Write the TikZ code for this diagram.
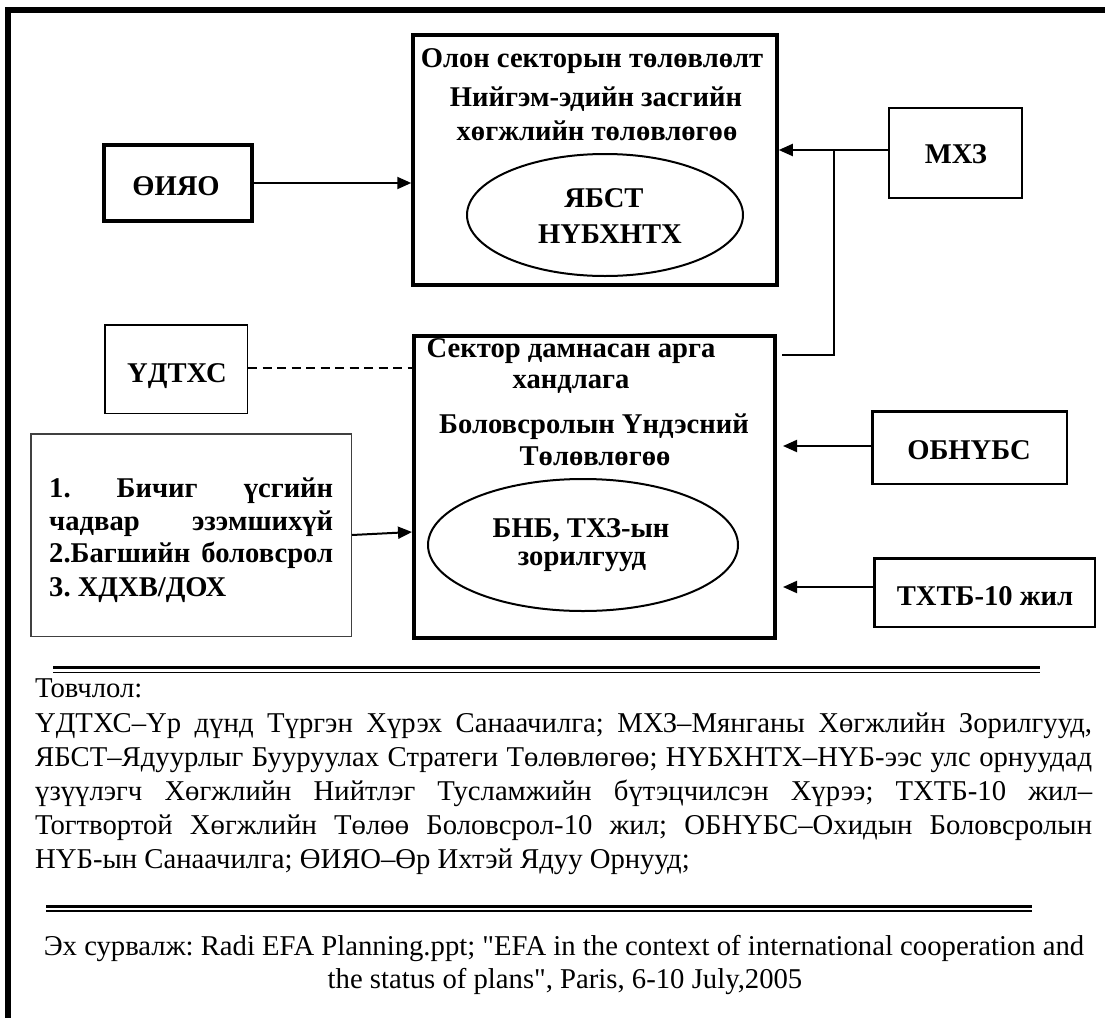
\documentclass[tikz,border=0pt]{standalone}
\usepackage{fontspec}
\setmainfont{Liberation Serif}[Ligatures=TeXOff]
\usetikzlibrary{arrows.meta,shapes.geometric}
\frenchspacing
\begin{document}
\frenchspacing
\begin{tikzpicture}[x=1pt,y=-1pt,
  bt/.style={font=\fontsize{28.6}{32}\selectfont\bfseries, inner sep=0pt, anchor=base},
  rt/.style={font=\fontsize{28.7}{32}\selectfont, inner sep=0pt, anchor=base west},
  boxthick/.style={draw, line width=4pt, inner sep=0pt},
  boxmid/.style={draw, line width=2.5pt, inner sep=0pt},
  boxthin/.style={draw, line width=1.5pt, inner sep=0pt},
  ell/.style={draw, ellipse, line width=2pt, inner sep=0pt},
  arr/.style={line width=2pt, -{Triangle[length=14pt,width=12pt]}},
  plain/.style={line width=2pt},
  dashline/.style={line width=2pt, dash pattern=on 9pt off 5.5pt}
]
\useasboundingbox (0,0) rectangle (1105,1017);
\clip (0,0) rectangle (1105,1017);
% outer frame (right and bottom sides lie outside the picture)
\draw[line width=5.5pt] (1200,10) -- (8,10) -- (8,1100);

% boxes
\node[boxthick, minimum width=363.5pt, minimum height=250pt] (top) at (595,160) {};
\node[ell, minimum width=276pt, minimum height=122pt] (ell1) at (605,215) {};
\node[draw, line width=4.5pt, inner sep=0pt, minimum width=148pt, minimum height=76pt] (oiyao) at (178,183) {};
\node[boxmid, minimum width=133pt, minimum height=90pt] (mhz) at (955.5,153) {};
\node[boxthick, minimum width=361pt, minimum height=302pt] (low) at (594.5,487) {};
\node[ell, minimum width=310pt, minimum height=132pt] (ell2) at (583,545) {};
\node[boxthin, minimum width=142.5pt, minimum height=88.5pt] (udtxs) at (176,369) {};
\node[boxthin, draw=black!75, minimum width=320.5pt, minimum height=202.5pt] (list) at (191,535) {};
\node[boxmid, minimum width=194.5pt, minimum height=72.5pt] (obn) at (969.5,447.5) {};
\node[boxmid, minimum width=220.5pt, minimum height=68.5pt] (txtb) at (984.5,592.5) {};

% connectors
\coordinate (j1) at (834,150);
\coordinate (j2) at (834,355);
\coordinate (j3) at (782,355);
\draw[arr] (oiyao.east) -- (top.west |- oiyao.east);
\draw[arr] (mhz.west |- j1) -- (top.east |- j1);
\draw[plain] (j1) -- (j2) -- (j3);
\draw[dashline] ([yshift=1pt]udtxs.east) -- ([yshift=1pt]low.west |- udtxs.east);
\draw[arr] (list.east) -- ([yshift=3pt]low.west |- list.east);
\draw[arr] ([yshift=1.5pt]obn.west) -- ([xshift=6pt,yshift=1.5pt]low.east |- obn.west);
\draw[arr] ([yshift=5.5pt]txtb.west) -- ([xshift=6pt,yshift=5.5pt]low.east |- txtb.west);

% texts in diagram
\node[bt] (t1) at (592,67) {Олон секторын төлөвлөлт};
\node[bt] (t2) at (596,106) {Нийгэм-эдийн засгийн};
\node[bt] (t3) at (597,140) {хөгжлийн төлөвлөгөө};
\node[bt] (e1a) at (604,207) {ЯБСТ};
\node[bt] (e1b) at (610,243) {НҮБХНТХ};
\node[bt] (oiyaoT) at (176,195) {ӨИЯО};
\node[bt] (mhzT) at (956,163) {МХЗ};
\node[bt] (udT) at (177,382) {ҮДТХС};
\node[bt] (s1) at (571,357) {Сектор дамнасан арга};
\node[bt] (s2) at (571,388) {хандлага};
\node[bt] (s3) at (594,433) {Боловсролын Үндэсний};
\node[bt] (s4) at (595,465) {Төлөвлөгөө};
\node[bt] (e2a) at (581,537) {БНБ, ТХЗ-ын};
\node[bt] (e2b) at (582,565) {зорилгууд};
\node[bt] (obT) at (969,459) {ОБНҮБС};
\node[bt] (txT) at (985,605) {ТХТБ-10 жил};
\node[bt, anchor=base west] (l1) at (49,497) {\makebox[284pt][s]{1. Бичиг үсгийн}};
\node[bt, anchor=base west] (l2) at (49,530) {\makebox[284pt][s]{чадвар эзэмшихүй}};
\node[bt, anchor=base west] (l3) at (49,562) {\makebox[284pt][s]{2.Багшийн боловсрол}};
\node[bt, anchor=base west] (l4) at (49,596) {3. ХДХВ/ДОХ};

% separators
\draw[line width=3pt] (53,667) -- (1040,667);
\draw[line width=1.5pt] (53,672.5) -- (1040,672.5);
\draw[line width=3pt] (46,906) -- (1032,906);
\draw[line width=1.5pt] (46,911) -- (1032,911);

% abbreviations
\node[rt] (a0) at (35,697) {Товчлол:};
\node[rt] (a1) at (35,732) {\makebox[1057pt][s]{ҮДТХС–Үр дүнд Түргэн Хүрэх Санаачилга; МХЗ–Мянганы Хөгжлийн Зорилгууд,}};
\node[rt] (a2) at (35,766) {\makebox[1057pt][s]{ЯБСТ–Ядуурлыг Бууруулах Стратеги Төлөвлөгөө; НҮБХНТХ–НҮБ-ээс улс орнуудад}};
\node[rt] (a3) at (35,800) {\makebox[1057pt][s]{үзүүлэгч Хөгжлийн Нийтлэг Тусламжийн бүтэцчилсэн Хүрээ; ТХТБ-10 жил–}};
\node[rt] (a4) at (35,834) {\makebox[1057pt][s]{Тогтвортой Хөгжлийн Төлөө Боловсрол-10 жил; ОБНҮБС–Охидын Боловсролын}};
\node[rt] (a5) at (35,868) {НҮБ-ын Санаачилга; ӨИЯО–Өр Ихтэй Ядуу Орнууд;};

% source
\node[rt, anchor=base] (src1) at (564,955) {Эх сурвалж: Radi EFA Planning.ppt; "EFA in the context of international cooperation and};
\node[rt, anchor=base] (src2) at (565,988) {the status of plans", Paris, 6-10 July,2005};
\end{tikzpicture}
\end{document}
